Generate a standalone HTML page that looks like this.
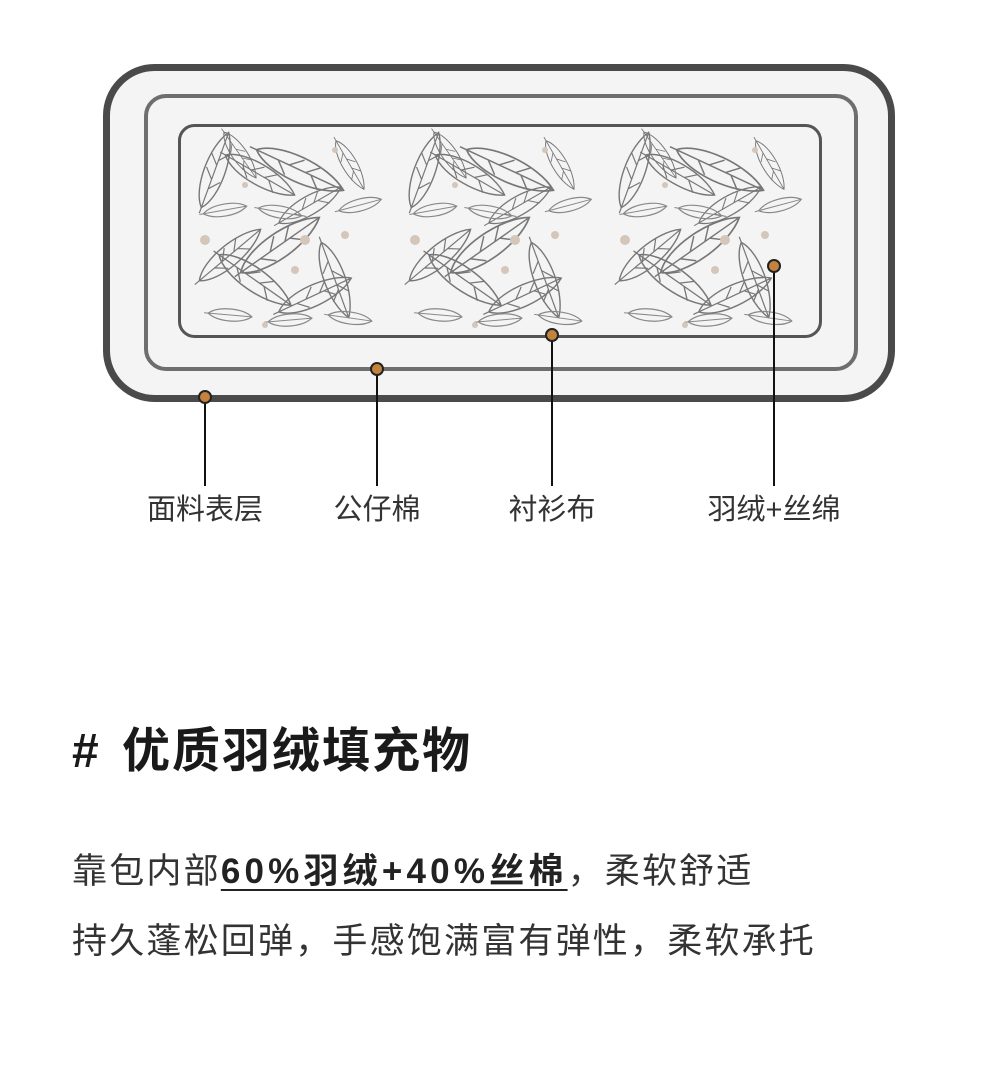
<!DOCTYPE html>
<html><head><meta charset="utf-8"><style>
body{margin:0;width:1000px;height:1070px;background:#fff;position:relative;overflow:hidden;font-family:"Liberation Sans","Noto Sans CJK SC",sans-serif;color:#333}
.lbl{position:absolute;top:486px;font-size:29px;transform:translateX(-50%);white-space:nowrap;color:#333}
h1{position:absolute;left:72px;top:722px;margin:0;font-size:48px;font-weight:bold;color:#1a1a1a;letter-spacing:2px;line-height:60px;word-spacing:6px}
.p{position:absolute;left:72px;font-size:35px;letter-spacing:2.2px;color:#333;white-space:nowrap;line-height:44px}
.p b{color:#222;letter-spacing:4.2px;text-decoration:underline;text-decoration-thickness:2px;text-underline-offset:6px}
</style></head><body>
<svg width="1000" height="560" style="position:absolute;left:0;top:0">
<defs>
<g id="f">
<path d="M-40 0 C-25 -14 20 -14 40 0 C20 14 -25 14 -40 0Z" fill="none" stroke="#777" stroke-width="1.4"/>
<path d="M-46 0 L40 0 M-10 0 L0 -9 M5 0 L15 -9 M-20 0 L-10 9 M10 0 L20 9" fill="none" stroke="#777" stroke-width="1.2"/>
</g>
<g id="s">
<path d="M-22 0 C-12 -8 12 -8 22 0 C12 8 -12 8 -22 0Z" fill="none" stroke="#888" stroke-width="1.2"/>
<path d="M-26 0 L22 0" stroke="#888" stroke-width="1"/>
</g>
<g id="tile">
<use href="#f" transform="translate(30 40) rotate(-70)"/>
<use href="#f" transform="translate(75 45) rotate(30)"/>
<use href="#f" transform="translate(115 40) rotate(25) scale(1.2)"/>
<use href="#f" transform="translate(55 25) rotate(55) scale(0.7)"/>
<use href="#f" transform="translate(125 75) rotate(-30) scale(0.9)"/>
<use href="#f" transform="translate(165 35) rotate(60) scale(0.7)"/>
<use href="#s" transform="translate(40 80) rotate(-10)"/>
<use href="#s" transform="translate(95 82) rotate(10)"/>
<use href="#s" transform="translate(175 75) rotate(-15)"/>
<use href="#f" transform="translate(45 125) rotate(-40)"/>
<use href="#f" transform="translate(95 115) rotate(-35) scale(1.2)"/>
<use href="#f" transform="translate(70 150) rotate(35) scale(1.1)"/>
<use href="#f" transform="translate(150 150) rotate(70)"/>
<use href="#f" transform="translate(130 165) rotate(-25)"/>
<use href="#s" transform="translate(45 185) rotate(5)"/>
<use href="#s" transform="translate(105 190) rotate(-5)"/>
<use href="#s" transform="translate(165 188) rotate(8)"/>
<g fill="#d4c6b8">
<circle cx="20" cy="110" r="5"/><circle cx="120" cy="110" r="5"/><circle cx="160" cy="105" r="4"/>
<circle cx="60" cy="55" r="3"/><circle cx="150" cy="20" r="3"/><circle cx="80" cy="195" r="3"/><circle cx="110" cy="140" r="4"/></g>
</g>
</defs>
<rect x="106.5" y="67.5" width="785" height="331" rx="48" fill="#f4f4f4" stroke="#4a4a4a" stroke-width="7"/>
<rect x="146" y="96" width="710" height="273" rx="20" fill="#f4f4f4" stroke="#6e6e6e" stroke-width="4"/>
<rect x="179.5" y="125.5" width="641" height="211" rx="15" fill="#f4f4f4" stroke="#555" stroke-width="3"/>
<g transform="translate(185 130)">
<use href="#tile"/>
<use href="#tile" transform="translate(210 0)"/>
<use href="#tile" transform="translate(420 0)"/>
</g>
<g stroke="#111" stroke-width="2">
<line x1="205" y1="397" x2="205" y2="486"/>
<line x1="377" y1="369" x2="377" y2="486"/>
<line x1="552" y1="335" x2="552" y2="486"/>
<line x1="774" y1="266" x2="774" y2="486"/>
</g>
<g fill="#c3833e" stroke="#222" stroke-width="2">
<circle cx="205" cy="397" r="6"/><circle cx="377" cy="369" r="6"/><circle cx="552" cy="335" r="6"/><circle cx="774" cy="266" r="6"/>
</g>
</svg>
<div class="lbl" style="left:205px">面料表层</div>
<div class="lbl" style="left:377px">公仔棉</div>
<div class="lbl" style="left:552px">衬衫布</div>
<div class="lbl" style="left:774px">羽绒+丝绵</div>
<h1># 优质羽绒填充物</h1>
<div class="p" style="top:850px">靠包内部<b>60%羽绒+40%丝棉</b>，柔软舒适</div>
<div class="p" style="top:920px">持久蓬松回弹，手感饱满富有弹性，柔软承托</div>
</body></html>
